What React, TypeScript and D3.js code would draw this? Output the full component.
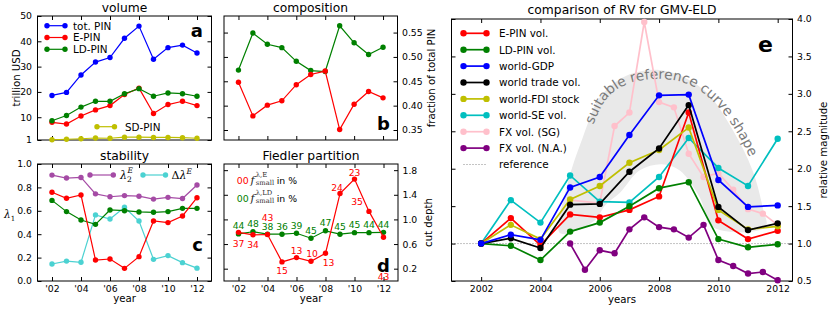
import * as d3 from "d3";
import { useEffect, useRef } from "react";

const FONT = "DejaVu Sans, sans-serif";
const SERIF = "DejaVu Serif, serif";
const TICK = 9.3;
const LABEL = 10.2;
const TITLE = 12.3;

// ---- shared x categories ----
const years = [2002, 2003, 2004, 2005, 2006, 2007, 2008, 2009, 2010, 2011, 2012];
const evenYears = [2002, 2004, 2006, 2008, 2010, 2012];

// ---- a: volume (trillion USD) ----
const volTot = [18.6, 19.8, 26.7, 31.8, 33.6, 41.2, 46.0, 32.9, 37.5, 38.5, 35.4];
const volE = [8.0, 7.3, 10.5, 12.9, 14.6, 19.0, 21.5, 11.5, 15.0, 16.3, 14.6];
const volLD = [8.6, 10.7, 14.0, 16.3, 16.3, 19.3, 21.3, 18.3, 19.6, 19.3, 18.3];
const volSD = [1.1, 1.3, 1.5, 1.8, 1.7, 2.1, 2.1, 2.0, 2.0, 1.9, 1.7];
const volTicks = [1, 10, 20, 30, 40, 50];

// ---- b: composition (fraction of total PIN) ----
const fracLD = [0.473, 0.549, 0.526, 0.519, 0.491, 0.472, 0.47, 0.564, 0.529, 0.505, 0.52];
const fracE = [0.448, 0.379, 0.401, 0.41, 0.443, 0.464, 0.471, 0.351, 0.403, 0.429, 0.416];
const fracTicks = [0.35, 0.4, 0.45, 0.5, 0.55];

// ---- c: stability ----
const lam2E = [0.905, 0.88, 0.885, 0.745, 0.72, 0.73, 0.725, 0.7, 0.715, 0.705, 0.82];
const dLamE = [0.145, 0.17, 0.16, 0.565, 0.53, 0.63, 0.513, 0.185, 0.217, 0.157, 0.11];
const lam1E = [0.758, 0.707, 0.735, 0.179, 0.188, 0.108, 0.208, 0.513, 0.499, 0.556, 0.712];
const lam1LD = [0.689, 0.593, 0.521, 0.484, 0.607, 0.601, 0.59, 0.587, 0.593, 0.621, 0.621];
const stabTicks = [0, 0.2, 0.4, 0.6, 0.8, 1.0];

// ---- d: Fiedler partition ----
const cutE = [0.79, 0.75, 0.755, 0.31, 0.38, 0.32, 0.45, 1.42, 1.655, 1.13, 0.71];
const cutLD = [0.765, 0.8, 0.76, 0.76, 0.775, 0.695, 0.815, 0.76, 0.785, 0.785, 0.79];
const pctSmallE = [37, 34, 43, 15, 13, 10, 13, 24, 23, 35, 43];
const pctSmallLD = [44, 48, 38, 36, 39, 45, 47, 45, 45, 44, 44];
const cutTicks = [0.2, 0.6, 1.0, 1.4, 1.8];
// where the red percentages sit relative to their point (px)
const pctEdx = [0, 0, 0, 0, 0, 1, 3, -3, 0, -12, 0];
const pctEdy = [14.5, 13, -14, 12, -4, -4, 12.5, -3, -3, -6.5, 42.5];

// ---- e: comparison of RV ----
const rvE = [1.0, 1.34, 0.98, 1.39, 1.35, 1.45, 1.63, 2.75, 1.31, 1.06, 1.17];
const rvLD = [1.0, 0.97, 0.78, 1.16, 1.28, 1.5, 1.74, 1.82, 1.06, 0.95, 0.99];
const rvGDP = [1.0, 1.12, 1.05, 1.75, 1.89, 2.45, 2.98, 2.99, 1.85, 1.49, 1.51];
const rvTrade = [1.0, 1.07, 0.94, 1.52, 1.53, 1.96, 2.27, 2.85, 1.49, 1.18, 1.27];
const rvFDI = [1.0, 1.25, 1.06, 1.59, 1.77, 2.08, 2.25, 2.55, 1.45, 1.19, 1.23];
const rvSE = [1.0, 1.58, 1.28, 1.91, 1.56, 1.55, 1.89, 2.41, 2.01, 1.77, 2.4];
const fxSGYears = [2005, 2006, 2006.5, 2007, 2007.5, 2008, 2008.5, 2009, 2009.5, 2010, 2010.5, 2011, 2011.5, 2012];
const fxSG = [1.58, 1.54, 2.57, 2.75, 3.96, 2.89, 2.82, 2.2, 1.89, 1.94, 1.72, 1.46, 1.4, 1.25];
const fxNAYears = [2005, 2005.5, 2006, 2006.5, 2007, 2007.5, 2008, 2008.5, 2009, 2009.5, 2010, 2010.5, 2011, 2011.5, 2012];
const fxNA = [1.0, 0.65, 0.91, 0.87, 1.19, 1.35, 1.22, 1.19, 1.08, 1.25, 0.78, 0.7, 0.6, 0.62, 0.51];
const rvTicks = [0.5, 1.0, 1.5, 2.0, 2.5, 3.0, 3.5, 4.0];
// "suitable reference curve shape" band, in (year, value)
const bandOuter: [number, number][] = [
  [2004.66, 1.14], [2004.89, 1.76], [2005.43, 2.42], [2006.0, 2.95], [2006.68, 3.2],
  [2007.35, 3.3], [2008.02, 3.32], [2008.69, 3.25], [2009.6, 3.02], [2010.48, 2.52],
  [2011.15, 1.98], [2011.49, 1.49], [2011.59, 1.22],
];
const bandInner: [number, number][] = [
  [2009.8, 1.22], [2009.37, 1.62], [2008.69, 1.98], [2008.09, 2.06], [2007.35, 1.98],
  [2006.68, 1.68], [2006.2, 1.52], [2005.77, 1.29],
];
const bandText: [number, number][] = [
  [2005.75, 2.55], [2006.2, 2.92], [2006.86, 3.12], [2008.02, 3.2], [2009.03, 3.12],
  [2009.87, 2.88], [2010.64, 2.47], [2011.22, 1.98], [2011.6, 1.4],
];

const C = {
  red: "#ff0000",
  green: "#008000",
  blue: "#0000ff",
  black: "#000000",
  olive: "#bfbf00",
  cyan: "#00bfbf",
  pink: "#ffc0cb",
  purple: "#800080",
};

const yrFmt = (d: any) => "'" + String(d).slice(2);

function frameAxes(g: any, x: any, y: any, xTicks: number[], yTicks: number[], xFmt: any, yFmt: any, ySide: string) {
  const [x0, x1] = x.range();
  const [y0, y1] = y.range();
  const none = () => "";
  const add = (axis: any, tx: number, ty: number) => {
    const a = g.append("g").attr("transform", `translate(${tx},${ty})`).call(axis);
    a.select(".domain").remove();
    a.attr("font-family", FONT).attr("font-size", TICK);
    a.selectAll("text").attr("fill", "#000");
    return a;
  };
  add(d3.axisBottom(x).tickValues(xTicks).tickSize(-4).tickPadding(4.5).tickFormat(xFmt ?? none), 0, y0);
  add(d3.axisTop(x).tickValues(xTicks).tickSize(-4).tickFormat(none), 0, y1);
  add(d3.axisLeft(y).tickValues(yTicks).tickSize(-4).tickPadding(5.5).tickFormat(ySide === "left" ? yFmt : none), x0, 0);
  add(d3.axisRight(y).tickValues(yTicks).tickSize(-4).tickPadding(4.5).tickFormat(ySide === "right" ? yFmt : none), x1, 0);
  g.append("rect")
    .attr("x", x0).attr("y", y1).attr("width", x1 - x0).attr("height", y0 - y1)
    .attr("fill", "none").attr("stroke", "#000").attr("stroke-width", 1);
}

function plotSeries(g: any, x: any, y: any, xs: number[], vs: number[], color: string, opts: any = {}) {
  const { r = 2.7, lw = 1.2, opacity = 1 } = opts;
  const pts = vs.map((v, i) => [x(xs[i]), y(v)] as [number, number]);
  const s = g.append("g").attr("opacity", opacity);
  s.append("path").attr("d", d3.line()(pts)).attr("fill", "none").attr("stroke", color).attr("stroke-width", lw);
  s.selectAll("circle").data(pts).join("circle")
    .attr("cx", (d: any) => d[0]).attr("cy", (d: any) => d[1]).attr("r", r).attr("fill", color);
  return pts;
}

function legendItem(g: any, xa: number, xb: number, yy: number, color: string, label: string | null, opts: any = {}) {
  const { r = 2.7, lw = 1.2, opacity = 1, dash = null, markers = true, gap = 12.5 } = opts;
  const s = g.append("g").attr("opacity", opacity);
  s.append("line").attr("x1", xa).attr("x2", xb).attr("y1", yy).attr("y2", yy)
    .attr("stroke", color).attr("stroke-width", lw).attr("stroke-dasharray", dash);
  if (markers) {
    [xa, xb].forEach((cx) => s.append("circle").attr("cx", cx).attr("cy", yy).attr("r", r).attr("fill", color));
  }
  if (label) {
    g.append("text").attr("x", xb + gap).attr("y", yy + 3.8)
      .attr("font-family", FONT).attr("font-size", 10.4).text(label);
  }
}

function text(g: any, x: number, y: number, s: string, opts: any = {}) {
  const { size = LABEL, anchor = "start", weight = "normal", fill = "#000", rotate = 0, family = FONT, style = "normal" } = opts;
  return g.append("text")
    .attr("transform", `translate(${x},${y}) rotate(${rotate})`)
    .attr("text-anchor", anchor).attr("font-family", family).attr("font-size", size)
    .attr("font-weight", weight).attr("font-style", style).attr("fill", fill).text(s);
}

export default function App() {
  const ref = useRef<SVGSVGElement | null>(null);

  useEffect(() => {
    if (!ref.current) return;
    const svg = d3.select(ref.current);
    svg.selectAll("*").remove();
    svg.append("rect").attr("width", 830).attr("height", 309).attr("fill", "#fff");

    // === a: volume ===
    {
      const g = svg.append("g");
      const x = d3.scaleLinear().domain([2001, 2013]).range([37.5, 211.5]);
      const y = d3.scaleLinear().domain([1, 50]).range([140, 16]);
      frameAxes(g, x, y, evenYears, volTicks, null, d3.format("d"), "left");
      plotSeries(g, x, y, years, volSD, C.olive);
      plotSeries(g, x, y, years, volE, C.red);
      plotSeries(g, x, y, years, volLD, C.green);
      plotSeries(g, x, y, years, volTot, C.blue);
      legendItem(g, 47, 65, 25.7, C.blue, "tot. PIN", { gap: 8 });
      legendItem(g, 47, 65, 37.5, C.red, "E-PIN", { gap: 8 });
      legendItem(g, 47, 65, 49.3, C.green, "LD-PIN", { gap: 8 });
      legendItem(g, 97, 114.5, 126.7, C.olive, "SD-PIN", { gap: 10.5 });
      text(g, 124.5, 12, "volume", { size: TITLE, anchor: "middle" });
      text(g, 19.5, 78, "trillion USD", { rotate: -90, anchor: "middle" });
      text(g, 203, 37.3, "a", { size: 18, weight: "bold", anchor: "end" });
    }

    // === b: composition ===
    {
      const g = svg.append("g");
      const x = d3.scaleLinear().domain([2001, 2013]).range([224, 397.5]);
      const y = d3.scaleLinear().domain([0.3295, 0.584]).range([140, 16]);
      frameAxes(g, x, y, evenYears, fracTicks, null, d3.format(".2f"), "right");
      plotSeries(g, x, y, years, fracLD, C.green);
      plotSeries(g, x, y, years, fracE, C.red);
      text(g, 310.5, 12, "composition", { size: TITLE, anchor: "middle" });
      text(g, 434.5, 78, "fraction of total PIN", { rotate: -90, anchor: "middle" });
      text(g, 390, 130, "b", { size: 18, weight: "bold", anchor: "end" });
    }

    // === c: stability ===
    {
      const g = svg.append("g");
      const x = d3.scaleLinear().domain([2001, 2013]).range([37.5, 211.5]);
      const y = d3.scaleLinear().domain([0, 1]).range([281, 164]);
      frameAxes(g, x, y, evenYears, stabTicks, yrFmt, d3.format(".1f"), "left");
      plotSeries(g, x, y, years, lam2E, C.purple, { opacity: 0.7 });
      plotSeries(g, x, y, years, dLamE, C.cyan, { opacity: 0.7 });
      plotSeries(g, x, y, years, lam1LD, C.green);
      plotSeries(g, x, y, years, lam1E, C.red);
      legendItem(g, 90, 113.3, 175, C.purple, null, { opacity: 0.7 });
      legendItem(g, 143, 165.5, 175, C.cyan, null, { opacity: 0.7 });
      const l1 = g.append("text").attr("x", 120).attr("y", 178.5).attr("font-family", SERIF).attr("font-size", 11);
      l1.append("tspan").attr("font-style", "italic").text("λ");
      l1.append("tspan").attr("font-size", 7.5).attr("dy", 3).text("2");
      l1.append("tspan").attr("font-size", 7.5).attr("font-style", "italic").attr("dx", -4.2).attr("dy", -9).text("E");
      const l2 = g.append("text").attr("x", 171.5).attr("y", 178.5).attr("font-family", SERIF).attr("font-size", 11);
      l2.append("tspan").text("Δ");
      l2.append("tspan").attr("font-style", "italic").text("λ");
      l2.append("tspan").attr("font-size", 7.5).attr("font-style", "italic").attr("dy", -5).text("E");
      text(g, 124.5, 160, "stability", { size: TITLE, anchor: "middle" });
      text(g, 124.5, 301.5, "year", { anchor: "middle" });
      const yl = g.append("text").attr("x", 4).attr("y", 218).attr("font-family", SERIF).attr("font-size", 10.5);
      yl.append("tspan").attr("font-style", "italic").text("λ");
      yl.append("tspan").attr("font-size", 7).attr("dy", 2.5).text("1");
      text(g, 203, 250.7, "c", { size: 18, weight: "bold", anchor: "end" });
    }

    // === d: Fiedler partition ===
    {
      const g = svg.append("g");
      const x = d3.scaleLinear().domain([2001, 2013]).range([224, 398]);
      const y = d3.scaleLinear().domain([0, 1.9]).range([281, 164]);
      frameAxes(g, x, y, evenYears, cutTicks, yrFmt, d3.format(".1f"), "right");
      const ptsLD = plotSeries(g, x, y, years, cutLD, C.green);
      const ptsE = plotSeries(g, x, y, years, cutE, C.red);
      g.selectAll("text.pld").data(pctSmallLD).join("text").attr("class", "pld")
        .attr("x", (_: any, i: number) => ptsLD[i][0]).attr("y", (_: any, i: number) => ptsLD[i][1] - 4.5)
        .attr("text-anchor", "middle").attr("font-family", FONT).attr("font-size", 9.2).attr("fill", C.green)
        .text((d: number) => d);
      g.selectAll("text.pe").data(pctSmallE).join("text").attr("class", "pe")
        .attr("x", (_: any, i: number) => ptsE[i][0] + pctEdx[i]).attr("y", (_: any, i: number) => ptsE[i][1] + pctEdy[i])
        .attr("text-anchor", "middle").attr("font-family", FONT).attr("font-size", 9.2).attr("fill", C.red)
        .text((d: number) => d);
      [["λ,E", C.red, 183.5], ["λ,LD", C.green, 201.5]].forEach(([sup, col, by]: any) => {
        text(g, 236.7, by, "00", { fill: col, size: 9.4 });
        text(g, 250.5, by, "f", { family: SERIF, style: "italic", size: 11, fill: "#222" });
        text(g, 255.8, by - 6.5, sup, { family: SERIF, size: 6.8, fill: "#333" });
        text(g, 255.8, by + 1.8, "small", { family: SERIF, size: 6.8, fill: "#333" });
        text(g, 276.7, by, "in %", { size: 9.3 });
      });
      text(g, 311, 160, "Fiedler partition", { size: TITLE, anchor: "middle" });
      text(g, 311, 301.5, "year", { anchor: "middle" });
      text(g, 431.5, 222.5, "cut depth", { rotate: -90, anchor: "middle" });
      text(g, 390, 271.7, "d", { size: 18, weight: "bold", anchor: "end" });
    }

    // === e: comparison of RV ===
    {
      const g = svg.append("g");
      const x = d3.scaleLinear().domain([2001, 2012.5]).range([451.5, 792.5]);
      const y = d3.scaleLinear().domain([0.5, 4.0]).range([281, 19]);
      const ring = bandOuter.concat(bandInner).map(([a, b]) => [x(a), y(b)] as [number, number]);
      g.append("path").attr("d", d3.line().curve(d3.curveCatmullRomClosed)(ring)).attr("fill", "#e9e9e9");
      g.append("defs").append("path").attr("id", "bandTextPath")
        .attr("d", d3.line().curve(d3.curveCatmullRom)(bandText.map(([a, b]) => [x(a), y(b)] as [number, number])));
      g.append("text").attr("font-family", FONT).attr("font-size", 13.8).attr("fill", "#7a7a7a")
        .append("textPath").attr("href", "#bandTextPath").attr("startOffset", 3)
        .text("suitable reference curve shape");
      g.append("line").attr("x1", x(2001)).attr("x2", x(2012.5)).attr("y1", y(1)).attr("y2", y(1))
        .attr("stroke", "#888").attr("stroke-width", 1).attr("stroke-dasharray", "1,2");
      frameAxes(g, x, y, evenYears, rvTicks, d3.format("d"), d3.format(".1f"), "right");
      const o = { r: 3.2, lw: 1.7 };
      plotSeries(g, x, y, fxSGYears, fxSG, C.pink, o);
      plotSeries(g, x, y, fxNAYears, fxNA, C.purple, o);
      plotSeries(g, x, y, years, rvSE, C.cyan, o);
      plotSeries(g, x, y, years, rvE, C.red, o);
      plotSeries(g, x, y, years, rvLD, C.green, o);
      plotSeries(g, x, y, years, rvFDI, C.olive, o);
      plotSeries(g, x, y, years, rvTrade, C.black, o);
      plotSeries(g, x, y, years, rvGDP, C.blue, o);
      const legend: [string, string][] = [
        [C.red, "E-PIN vol."], [C.green, "LD-PIN vol."], [C.blue, "world-GDP"], [C.black, "world trade vol."],
        [C.olive, "world-FDI stock"], [C.cyan, "world-SE vol."], [C.pink, "FX vol. (SG)"], [C.purple, "FX vol. (N.A.)"],
      ];
      legend.forEach(([col, lab], i) => legendItem(g, 463.5, 486.5, 33.3 + i * 16.4, col, lab, o));
      legendItem(g, 463.5, 486.5, 33.3 + 8 * 16.4, "#888", "reference", { lw: 1, dash: "1,2", markers: false });
      text(g, 622, 13.5, "comparison of RV for GMV-ELD", { size: TITLE, anchor: "middle" });
      text(g, 622, 302.5, "years", { anchor: "middle" });
      text(g, 827, 150, "relative magnitude", { rotate: -90, anchor: "middle" });
      text(g, 773, 51.7, "e", { size: 22, weight: "bold", anchor: "end" });
    }
  }, []);

  return (
    <svg
      ref={ref}
      width={830}
      height={309}
      viewBox="0 0 830 309"
      style={{ position: "absolute", left: 0, top: 0 }}
    />
  );
}
